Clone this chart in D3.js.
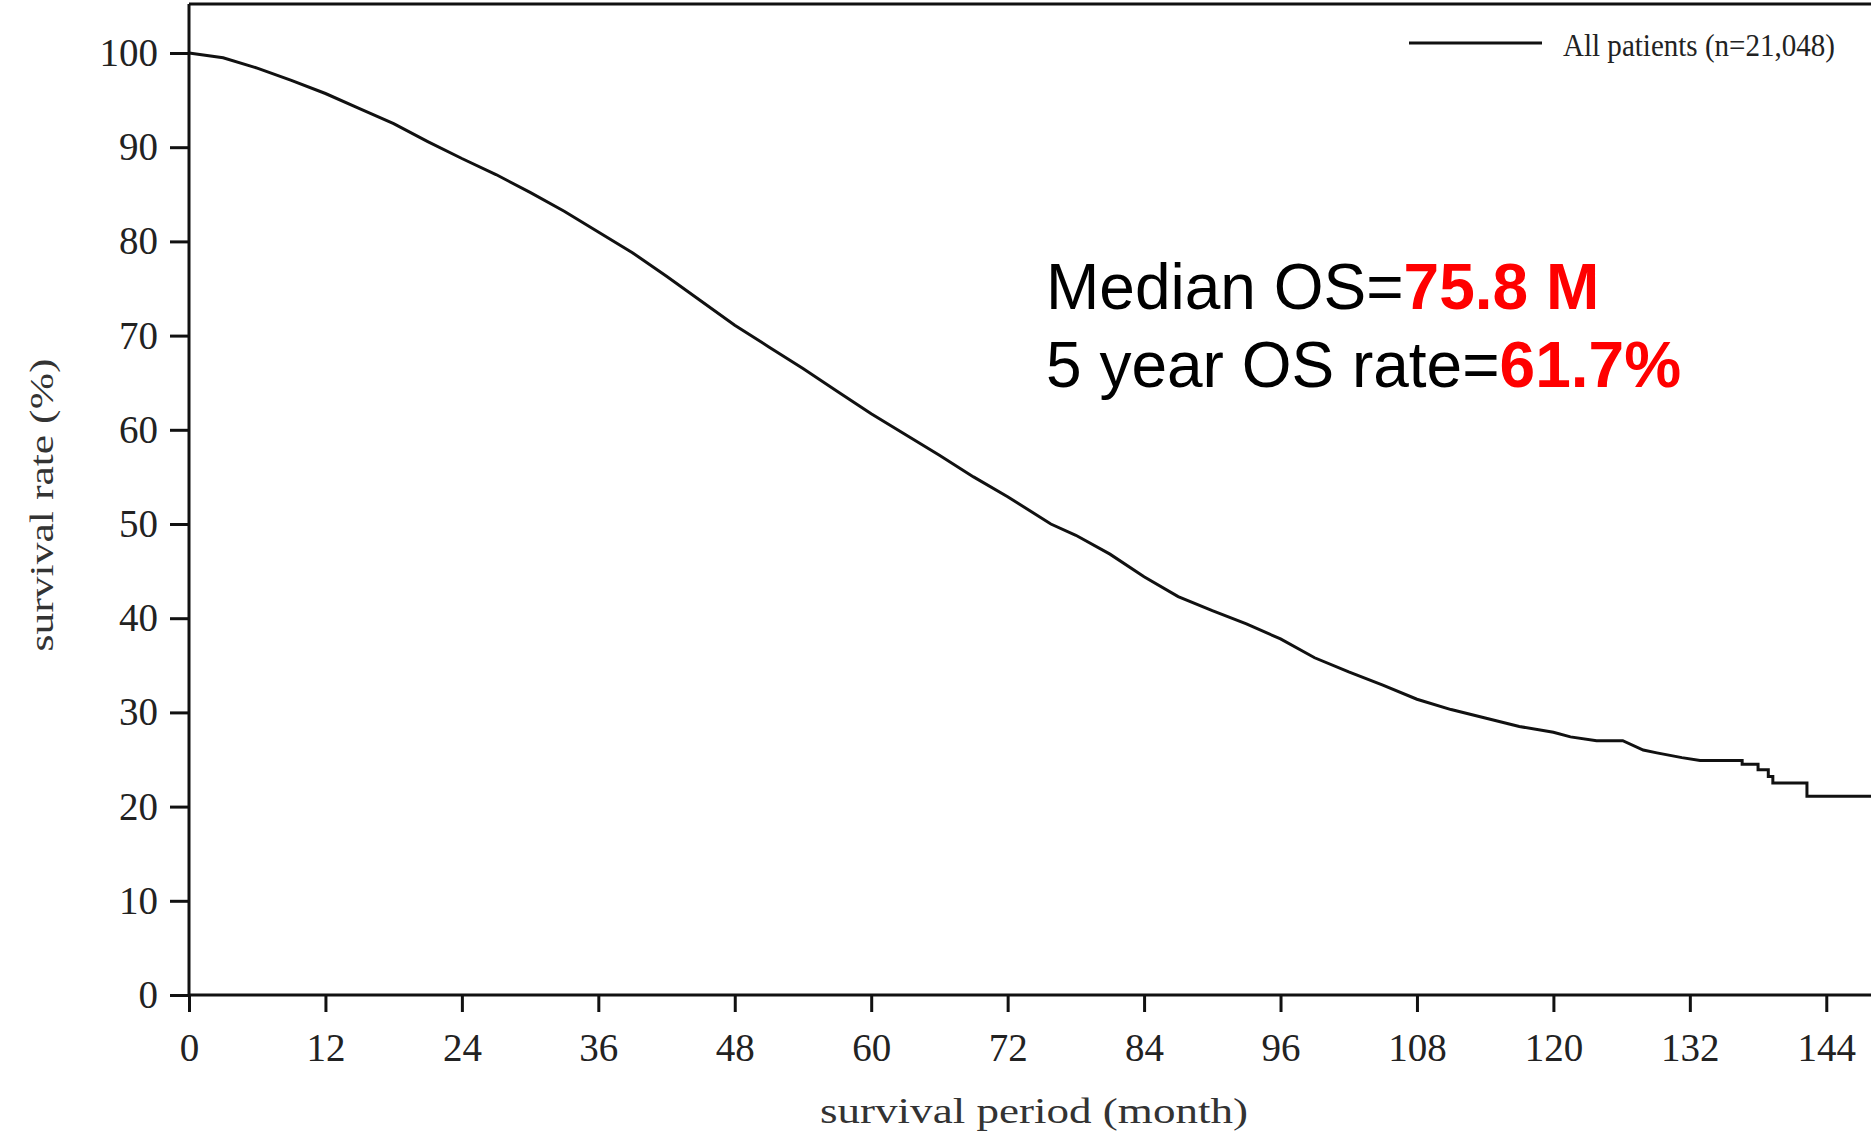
<!DOCTYPE html>
<html>
<head>
<meta charset="utf-8">
<script src="https://cdn.jsdelivr.net/npm/d3@7"></script>
<style>
  html, body { margin: 0; padding: 0; background: #ffffff; }
  svg { display: block; }
</style>
</head>
<body>
<svg id="chart" width="1871" height="1131"></svg>
<script>
// Kaplan–Meier overall survival, all patients
const months = [
  0, 3, 6, 9, 12, 15, 18, 21, 24, 27, 30, 33, 36, 39, 42, 45, 48, 51, 54, 57,
  60, 63, 66, 69, 72, 75.8, 78, 81, 84, 87, 90, 93, 96, 99, 102, 105, 108, 111,
  114, 117, 120, 121.5, 123.8, 126.1, 127.9, 129.1, 131.3, 132.9, 136.6, 136.6,
  138.0, 138.0, 138.9, 138.9, 139.3, 139.3, 142.3, 142.3, 148
];
const survival = [
  100, 99.5, 98.4, 97.1, 95.7, 94.1, 92.5, 90.6, 88.8, 87.1, 85.2, 83.2, 81.0,
  78.8, 76.3, 73.7, 71.1, 68.8, 66.5, 64.1, 61.7, 59.5, 57.3, 55.0, 52.9, 50.0,
  48.8, 46.8, 44.4, 42.3, 40.8, 39.4, 37.8, 35.8, 34.3, 32.9, 31.4, 30.3, 29.4,
  28.5, 27.9, 27.4, 27.0, 27.0, 26.0, 25.7, 25.2, 24.9, 24.9, 24.5, 24.5, 23.9,
  23.9, 23.2, 23.2, 22.5, 22.5, 21.1, 21.1
];
const xTicks = [0, 12, 24, 36, 48, 60, 72, 84, 96, 108, 120, 132, 144];
const yTicks = [0, 10, 20, 30, 40, 50, 60, 70, 80, 90, 100];
const legendLabel = "All patients (n=21,048)";
const medianOS = "75.8 M";
const fiveYearRate = "61.7%";

const svg = d3.select("#chart");
const W = 1871, H = 1131;
const plotLeft = 189, plotRight = W, plotTop = 4, plotBottom = 995;

const x = d3.scaleLinear().domain([0, 148]).range([plotLeft, plotLeft + 148 * 11.37]);
const y = d3.scaleLinear().domain([0, 100]).range([plotBottom, 53]);

const serif = "'Liberation Serif', 'Times New Roman', serif";

// frame: top border
svg.append("line")
  .attr("x1", plotLeft).attr("x2", plotRight)
  .attr("y1", plotTop).attr("y2", plotTop)
  .attr("stroke", "#111").attr("stroke-width", 3);

// y axis
const yAxis = svg.append("g")
  .attr("transform", `translate(${plotLeft},0)`)
  .call(d3.axisLeft(y).tickValues(yTicks).tickSize(19).tickPadding(12));
yAxis.select(".domain").remove();
yAxis.append("line")
  .attr("x1", 0).attr("x2", 0).attr("y1", plotTop).attr("y2", plotBottom)
  .attr("stroke", "#111").attr("stroke-width", 3);

// x axis
const xAxis = svg.append("g")
  .attr("transform", `translate(0,${plotBottom})`)
  .call(d3.axisBottom(x).tickValues(xTicks).tickSize(17).tickPadding(21));
xAxis.select(".domain").remove();
xAxis.append("line")
  .attr("x1", plotLeft).attr("x2", plotRight).attr("y1", 0).attr("y2", 0)
  .attr("stroke", "#111").attr("stroke-width", 3);

[yAxis, xAxis].forEach(g => {
  g.selectAll(".tick line").attr("stroke", "#111").attr("stroke-width", 3);
  g.selectAll(".tick text")
    .attr("fill", "#222")
    .style("font-family", serif)
    .style("font-size", "39px");
});

// axis titles
svg.append("text")
  .attr("transform", "translate(53,505) rotate(-90)")
  .attr("text-anchor", "middle")
  .attr("textLength", 293).attr("lengthAdjust", "spacingAndGlyphs")
  .attr("fill", "#333")
  .style("font-family", serif).style("font-size", "34px")
  .text("survival rate (%)");

svg.append("text")
  .attr("x", 1034).attr("y", 1123)
  .attr("text-anchor", "middle")
  .attr("textLength", 428).attr("lengthAdjust", "spacingAndGlyphs")
  .attr("fill", "#333")
  .style("font-family", serif).style("font-size", "35px")
  .text("survival period (month)");

// survival curve
const pts = months.map((m, i) => [m, survival[i]]);
svg.append("path")
  .datum(pts)
  .attr("fill", "none")
  .attr("stroke", "#111")
  .attr("stroke-width", 3)
  .attr("stroke-linejoin", "miter")
  .attr("d", d3.line().x(d => x(d[0])).y(d => y(d[1])).curve(d3.curveLinear));

// legend
svg.append("line")
  .attr("x1", 1409).attr("x2", 1542).attr("y1", 43).attr("y2", 43)
  .attr("stroke", "#111").attr("stroke-width", 3);
svg.append("text")
  .attr("x", 1563).attr("y", 56)
  .attr("textLength", 272).attr("lengthAdjust", "spacingAndGlyphs")
  .attr("fill", "#222")
  .style("font-family", serif).style("font-size", "31px")
  .text(legendLabel);

// summary annotation
const sans = "'Liberation Sans', Arial, sans-serif";
const l1 = svg.append("text")
  .style("font-family", sans).style("font-size", "64px").attr("fill", "#000")
  .attr("x", 1046).attr("y", 309);
l1.append("tspan").text("Median OS=");
l1.append("tspan").attr("fill", "#ff0000").attr("font-weight", "bold").text(medianOS);
const l2 = svg.append("text")
  .style("font-family", sans).style("font-size", "64px").attr("fill", "#000")
  .attr("x", 1046).attr("y", 387);
l2.append("tspan").text("5 year OS rate=");
l2.append("tspan").attr("fill", "#ff0000").attr("font-weight", "bold").text(fiveYearRate);
</script>
</body>
</html>
